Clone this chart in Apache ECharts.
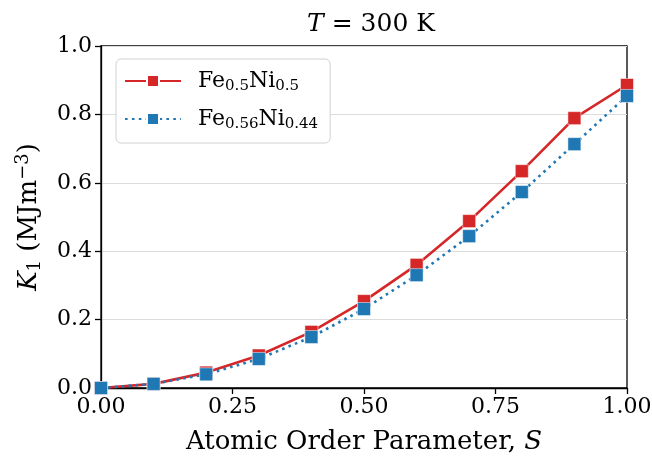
<!DOCTYPE html>
<html>
<head>
<meta charset="utf-8">
<script src="https://cdn.jsdelivr.net/npm/echarts@6/dist/echarts.min.js"></script>
<style>
  html, body { margin: 0; padding: 0; background: #fff; }
  #chart { width: 652px; height: 462px; }
</style>
</head>
<body>
<div id="chart"></div>
<script>
var orderParam = [0.0, 0.1, 0.2, 0.3, 0.4, 0.5, 0.6, 0.7, 0.8, 0.9, 1.0];
var k1Fe50 = [0.0, 0.012, 0.045, 0.095, 0.164, 0.254, 0.36, 0.488, 0.634, 0.789, 0.886];
var k1Fe56 = [0.0, 0.012, 0.04, 0.085, 0.149, 0.231, 0.33, 0.444, 0.573, 0.713, 0.854];

var serif = 'DejaVu Serif';

function pairs(xs, ys) {
    return xs.map(function (x, i) { return [x, ys[i]]; });
}

var chart = echarts.init(document.getElementById('chart'));

var option = {
    animation: false,
    textStyle: { fontFamily: serif },
    title: {
        text: '{i|T} = 300 K',
        left: 366,
        top: 7,
        textAlign: 'center',
        textStyle: {
            fontFamily: serif,
            fontSize: 25,
            fontWeight: 'normal',
            color: '#000',
            rich: {
                i: { fontFamily: serif, fontStyle: 'italic', fontSize: 25, color: '#000' }
            }
        }
    },
    grid: {
        left: 101,
        right: 25,
        top: 46,
        bottom: 74,
        outerBoundsMode: 'none',
        show: true,
        borderColor: '#000',
        borderWidth: 1.3
    },
    legend: {
        left: 116,
        top: 59,
        orient: 'vertical',
        padding: [11, 12, 11, 8],
        itemGap: 14,
        itemWidth: 56,
        itemHeight: 15,
        borderColor: '#d0d0d0',
        borderWidth: 1,
        borderRadius: 5,
        backgroundColor: '#fff',
        data: ['fe50', 'fe56'],
        formatter: function (name) {
            if (name === 'fe50') return 'Fe{s|0.5}Ni{s|0.5}';
            return 'Fe{s|0.56}Ni{s|0.44}';
        },
        textStyle: {
            fontFamily: serif,
            fontSize: 22,
            color: '#000',
            padding: [0, 0, 0, 12],
            rich: {
                s: { fontFamily: serif, fontSize: 15, color: '#000', verticalAlign: 'bottom', padding: [11, 0, 0, 0] }
            }
        }
    },
    xAxis: {
        type: 'value',
        min: 0,
        max: 1,
        interval: 0.25,
        name: 'Atomic Order Parameter, {i|S}',
        nameLocation: 'middle',
        nameGap: 41,
        nameTextStyle: {
            fontFamily: serif,
            fontSize: 26,
            color: '#000',
            rich: { i: { fontFamily: serif, fontStyle: 'italic', fontSize: 26, color: '#000' } }
        },
        axisLine: { show: true, lineStyle: { color: '#000', width: 1.3 } },
        axisTick: { show: true, length: 6, lineStyle: { color: '#000', width: 1.3 } },
        axisLabel: {
            fontFamily: serif,
            fontSize: 22,
            color: '#000',
            margin: 8,
            formatter: function (v) { return v.toFixed(2); }
        },
        splitLine: { show: false }
    },
    yAxis: {
        type: 'value',
        min: 0,
        max: 1,
        interval: 0.2,
        name: '{i|K}{s|1} (MJm{p|−3})',
        nameLocation: 'middle',
        nameGap: 57,
        nameTextStyle: {
            fontFamily: serif,
            fontSize: 26,
            color: '#000',
            rich: {
                i: { fontFamily: serif, fontStyle: 'italic', fontSize: 26, color: '#000' },
                s: { fontFamily: serif, fontSize: 18, color: '#000', verticalAlign: 'bottom', padding: [12, 0, 0, 0] },
                p: { fontFamily: serif, fontSize: 18, color: '#000', verticalAlign: 'top', padding: [0, 0, 12, 0] }
            }
        },
        axisLine: { show: true, lineStyle: { color: '#000', width: 1.3 } },
        axisTick: { show: true, length: 6, lineStyle: { color: '#000', width: 1.3 } },
        axisLabel: {
            fontFamily: serif,
            fontSize: 22,
            color: '#000',
            margin: 9,
            formatter: function (v) { return v.toFixed(1); }
        },
        splitLine: { show: true, lineStyle: { color: '#dcdcdc', width: 1.2 } }
    },
    series: [
        {
            name: 'fe50',
            type: 'line',
            data: pairs(orderParam, k1Fe50),
            symbol: 'rect',
            symbolSize: 13,
            color: '#d62728',
            lineStyle: { color: '#d62728', width: 2.6 },
            itemStyle: { color: '#d62728', borderColor: '#fff', borderWidth: 0.5 },
            z: 2
        },
        {
            name: 'fe56',
            type: 'line',
            data: pairs(orderParam, k1Fe56),
            symbol: 'rect',
            symbolSize: 13,
            color: '#1f77b4',
            lineStyle: { color: '#1f77b4', width: 2.6, type: [2.6, 4.3] },
            itemStyle: { color: '#1f77b4', borderColor: '#fff', borderWidth: 0.5 },
            z: 3
        }
    ]
};

chart.setOption(option);
</script>
</body>
</html>
